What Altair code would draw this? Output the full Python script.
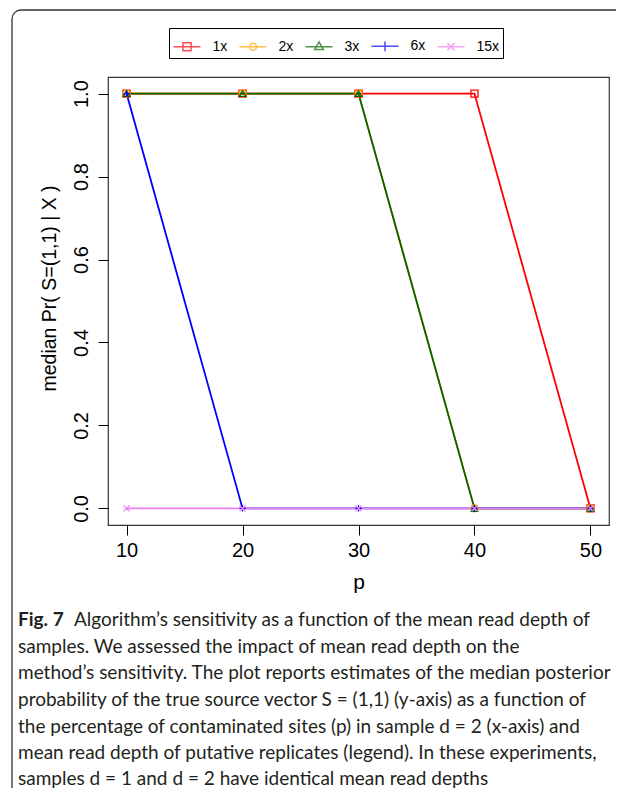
import altair as alt
import pandas as pd

# ---- data ----
series = ["1x", "2x", "3x", "6x", "15x"]
p_values = [10, 20, 30, 40, 50]
median_1x = [1.0, 1.0, 1.0, 1.0, 0.0]
median_2x = [1.0, 1.0, 1.0, 0.0, 0.0]
median_3x = [1.0, 1.0, 1.0, 0.0, 0.0]
median_6x = [1.0, 0.0, 0.0, 0.0, 0.0]
median_15x = [0.0, 0.0, 0.0, 0.0, 0.0]
colors = ["#FF0000", "#FFA500", "#006400", "#0000FF", "#EE82EE"]
x_ticks = [10, 20, 30, 40, 50]
y_ticks = [0.0, 0.2, 0.4, 0.6, 0.8, 1.0]

caption_bold = "Fig. 7"
caption_lines = [
    "Algorithm\u2019s sensitivity as a function of the mean read depth of",
    "samples. We assessed the impact of mean read depth on the",
    "method\u2019s sensitivity. The plot reports estimates of the median posterior",
    "probability of the true source vector S = (1,1) (y-axis) as a function of",
    "the percentage of contaminated sites (p) in sample d = 2 (x-axis) and",
    "mean read depth of putative replicates (legend). In these experiments,",
    "samples d = 1 and d = 2 have identical mean read depths",
]

# ---- styles ----
marker_shapes = ["square", "circle", "triangle-up", "M-1,0H1M0,-1V1", "M-1,-1L1,1M-1,1L1,-1"]
marker_sizes = [50, 36, 64, 90, 60]
legend_shapes = [
    "M-1,0H1M-0.3,-0.3H0.3V0.3H-0.3Z",
    "M-1,0H1M0.26,0A0.26,0.26 0 1,1 -0.26,0A0.26,0.26 0 1,1 0.26,0",
    "M-1,0H1M0,-0.36L0.32,0.2L-0.32,0.2Z",
    "M-1,0H1M0,-0.36V0.36",
    "M-1,0H1M-0.27,-0.27L0.27,0.27M-0.27,0.27L0.27,-0.27",
]

rows = []
for name, vals in zip(series, [median_1x, median_2x, median_3x, median_6x, median_15x]):
    for pv, v in zip(p_values, vals):
        rows.append({"series": name, "p": pv, "median": v})
df = pd.DataFrame(rows)

FONT = "Liberation Sans"

x_enc = alt.X(
    "p:Q",
    scale=alt.Scale(domain=[8.4, 51.6], nice=False, zero=False),
    axis=alt.Axis(
        values=x_ticks, domain=False, grid=False, tickSize=10, tickColor="black",
        labelFontSize=20, labelFont=FONT, labelColor="black", labelPadding=5,
        title="p", titleFont=FONT, titleFontSize=21, titleFontWeight="normal",
        titleColor="black", titleBaseline="alphabetic", titleY=63, titleAnchor="middle",
    ),
)
y_enc = alt.Y(
    "median:Q",
    scale=alt.Scale(domain=[-0.04, 1.04], nice=False, zero=False),
    axis=alt.Axis(
        values=y_ticks, format=".1f", domain=False, grid=False, tickSize=10,
        tickColor="black", labelFontSize=20, labelFont=FONT, labelColor="black",
        labelAngle=270, labelAlign="center", labelBaseline="alphabetic", labelPadding=11,
        title="median Pr( S=(1,1) | X )", titleFont=FONT, titleFontSize=19.5,
        titleFontWeight="normal", titleColor="black", titleAngle=270,
        titleAlign="center", titleBaseline="middle", titleX=-59, titleY=211,
    ),
)

color_plain = alt.Color("series:N", scale=alt.Scale(domain=series, range=colors), legend=None)

lines = alt.Chart(df).mark_line(strokeWidth=1.8).encode(
    x=x_enc, y=y_enc, color=color_plain, order=alt.Order("p:Q"),
    detail="series:N",
)

points = alt.Chart(df).mark_point(filled=False, strokeWidth=1.3, opacity=1).encode(
    x="p:Q", y="median:Q", color=color_plain,
    shape=alt.Shape("series:N", scale=alt.Scale(domain=series, range=marker_shapes), legend=None),
    size=alt.Size("series:N", scale=alt.Scale(domain=series, range=marker_sizes), legend=None),
)

legend_args = dict(
    orient="none", legendX=61, legendY=-49, direction="horizontal", title=None,
    strokeColor="black", padding=3.5, symbolSize=729, symbolStrokeWidth=1.5,
    symbolFillColor="transparent", labelFont=FONT, labelFontSize=14,
    labelColor="black", labelOffset=11, columnPadding=9, fillColor="white",
)
legend_layer = alt.Chart(df).transform_filter("datum.p < 0").mark_point(
    filled=False, strokeWidth=1.5
).encode(
    x="p:Q", y="median:Q",
    color=alt.Color("series:N", scale=alt.Scale(domain=series, range=colors),
                    legend=alt.Legend(**legend_args)),
    shape=alt.Shape("series:N", scale=alt.Scale(domain=series, range=legend_shapes),
                    legend=alt.Legend(**legend_args)),
)

one = pd.DataFrame({"k": [0]})
frame = alt.Chart(one).mark_rect(
    cornerRadius=9, fill="transparent", stroke="#333333", strokeWidth=1.3
).encode(x=alt.value(-96), x2=alt.value(560), y=alt.value(-67), y2=alt.value(740))

CAP_FONT = "Lato"
CAP_SIZE = 19
cap_y = [543, 570, 596, 623, 650, 676, 702]
caption_layers = [
    alt.Chart(pd.DataFrame({"t": [caption_bold]})).mark_text(
        font=CAP_FONT, fontSize=CAP_SIZE, fontWeight="bold", align="left",
        baseline="middle", color="#231f20",
    ).encode(text="t:N", x=alt.value(-90), y=alt.value(cap_y[0]))
]
for i, line in enumerate(caption_lines):
    caption_layers.append(
        alt.Chart(pd.DataFrame({"t": [line]})).mark_text(
            font=CAP_FONT, fontSize=CAP_SIZE, align="left", baseline="middle",
            color="#231f20",
        ).encode(text="t:N", x=alt.value(-34 if i == 0 else -90), y=alt.value(cap_y[i]))
    )

chart = alt.layer(frame, lines, points, legend_layer, *caption_layers).resolve_scale(
    color="independent", shape="independent"
).properties(
    width=501, height=448,
    padding={"left": 100, "top": 69, "right": 7, "bottom": 263},
    autosize=alt.AutoSizeParams(type="none"),
).configure_view(stroke="#333333", strokeWidth=1.2)

chart.save("out.html", embed_options={"renderer": "svg", "actions": False})
